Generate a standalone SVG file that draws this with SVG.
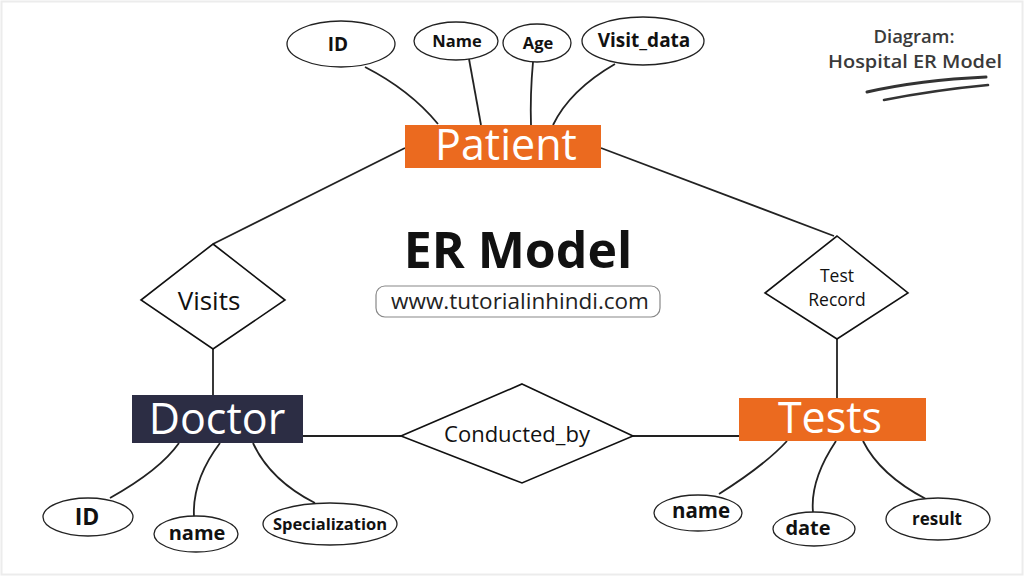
<svg xmlns="http://www.w3.org/2000/svg" width="1024" height="576" viewBox="0 0 1024 576">
<style>
text{font-family:"Open Sans","Noto Sans","Liberation Sans",sans-serif;text-anchor:middle}
.attr ellipse{fill:#fff;stroke:#222;stroke-width:1.3}
.attr text{font-weight:700;fill:#111}
.ent text{fill:#fff}
.rel polygon{fill:#fff;stroke:#111;stroke-width:1.6}
.rel text{fill:#111;font-weight:500}
#connectors path,#connectors line{fill:none;stroke:#222;stroke-width:1.8}
</style>
<rect x="0" y="0" width="1024" height="576" fill="#fff"/>
<rect x="1.5" y="1.5" width="1021" height="573" fill="none" stroke="#ececec" stroke-width="2"/>

<g id="connectors">
<path d="M365,67 Q410,90 438,124"/>
<path d="M469,59 L481,125"/>
<path d="M533,62 Q530,95 531,125"/>
<path d="M615,64 Q570,90 553,125"/>
<line x1="405" y1="148" x2="213" y2="244"/>
<line x1="601" y1="148" x2="834" y2="236"/>
<line x1="213" y1="349" x2="213" y2="395"/>
<line x1="837" y1="339" x2="837" y2="398"/>
<line x1="303" y1="436" x2="401" y2="436"/>
<line x1="633" y1="436" x2="739" y2="436"/>
<path d="M110,498 Q160,470 179,443"/>
<path d="M194,517 Q192,480 220,443"/>
<path d="M315,503 Q270,480 253,443"/>
<path d="M719,494 Q765,465 787,441"/>
<path d="M813,512 Q810,480 836,441"/>
<path d="M926,499 Q880,475 863,441"/>
</g>

<g id="patient" class="ent"><rect x="405" y="125" width="196" height="43" fill="#EB6A1F"/><text x="506" y="160" font-size="43">Patient</text></g>
<g id="doctor" class="ent"><rect x="132" y="395" width="171" height="48" fill="#2C2D44"/><text x="217" y="434" font-size="43">Doctor</text></g>
<g id="tests" class="ent"><rect x="739" y="398" width="187" height="43" fill="#EB6A1F"/><text x="830" y="433" font-size="43">Tests</text></g>

<g id="visits" class="rel"><polygon points="213,244 285,300 213,349 141,300"/><text x="209" y="310" font-size="26">Visits</text></g>
<g id="test_record" class="rel"><polygon points="837,236 908,293 837,339 765,293"/><text x="837" y="282" font-size="17.5">Test</text><text x="837" y="306" font-size="17.5">Record</text></g>
<g id="conducted_by" class="rel"><polygon points="522,384 633,436 522,483 401,436"/><text x="517" y="442" font-size="22">Conducted_by</text></g>

<g id="p_id" class="attr"><ellipse cx="341" cy="44" rx="54" ry="23"/><text x="338" y="51" font-size="19">ID</text></g>
<g id="p_name" class="attr"><ellipse cx="456" cy="41" rx="42" ry="19"/><text x="457" y="47" font-size="16.5">Name</text></g>
<g id="p_age" class="attr"><ellipse cx="537" cy="43" rx="34" ry="19"/><text x="538" y="49" font-size="16.5">Age</text></g>
<g id="p_visit" class="attr"><ellipse cx="643" cy="41" rx="61" ry="24"/><text x="644" y="47" font-size="19">Visit_data</text></g>

<g id="d_id" class="attr"><ellipse cx="88" cy="517" rx="45" ry="19"/><text x="87" y="525" font-size="23">ID</text></g>
<g id="d_name" class="attr"><ellipse cx="196" cy="534" rx="42" ry="18"/><text x="197" y="540" font-size="20">name</text></g>
<g id="d_spec" class="attr"><ellipse cx="330" cy="524" rx="67" ry="21"/><text x="330" y="530" font-size="16.5">Specialization</text></g>

<g id="t_name" class="attr"><ellipse cx="698" cy="513" rx="44" ry="18"/><text x="701" y="518" font-size="20.5">name</text></g>
<g id="t_date" class="attr"><ellipse cx="814" cy="529" rx="41" ry="17"/><text x="808" y="535" font-size="20">date</text></g>
<g id="t_result" class="attr"><ellipse cx="938" cy="519" rx="52" ry="21"/><text x="937" y="525" font-size="17">result</text></g>

<g id="title">
<text x="518" y="268" font-size="50" font-weight="700" fill="#111">ER Model</text>
<rect x="376" y="286" width="284" height="31" rx="9" fill="#fff" stroke="#888" stroke-width="1.2"/>
<text x="520" y="309" font-size="22.5" fill="#222">www.tutorialinhindi.com</text>
</g>

<g id="label">
<text x="914" y="43" font-size="18.5" font-weight="600" fill="#3a3a3a">Diagram:</text>
<text x="915" y="68" font-size="18.5" font-weight="600" fill="#3a3a3a" textLength="174" lengthAdjust="spacingAndGlyphs">Hospital ER Model</text>
<path d="M867,92 Q920,80 986,77" fill="none" stroke="#333" stroke-width="3" stroke-linecap="round"/>
<path d="M884,100 Q935,90 988,85" fill="none" stroke="#333" stroke-width="2.6" stroke-linecap="round"/>
</g>
</svg>
